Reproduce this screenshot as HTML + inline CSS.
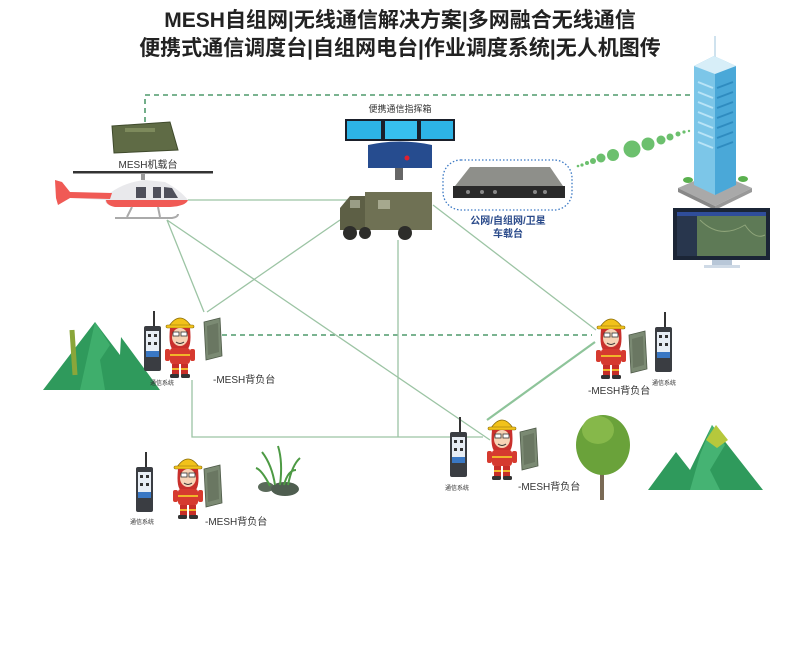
<!DOCTYPE html>
<html><head><meta charset="utf-8"><style>
html,body{margin:0;padding:0;background:#fff;}
svg{display:block;}
text{font-family:"Liberation Sans","Noto Sans CJK SC",sans-serif;}
</style></head><body>
<svg width="800" height="647" viewBox="0 0 800 647" xmlns="http://www.w3.org/2000/svg">
<defs>
<g id="sol">
 <!-- soldier ~32x66 origin top-left -->
 <path d="M5 14 Q16 -2 27 14 Z" fill="#f2c21a" stroke="#8a6d0a" stroke-width="0.8"/>
 <rect x="2" y="13" width="28" height="3" rx="1.5" fill="#f2c21a" stroke="#8a6d0a" stroke-width="0.6"/>
 <path d="M6 16 Q4 36 10 38 L22 38 Q28 36 26 16 Z" fill="#c9302c"/>
 <ellipse cx="16" cy="25" rx="8" ry="9" fill="#f7d3b5"/>
 <rect x="9" y="20" width="6" height="4" fill="#fff" stroke="#333" stroke-width="0.8"/>
 <rect x="17" y="20" width="6" height="4" fill="#fff" stroke="#333" stroke-width="0.8"/>
 <path d="M12 30 Q16 33 20 30" stroke="#333" fill="none" stroke-width="1"/>
 <rect x="6" y="36" width="20" height="16" rx="3" fill="#d63a2f"/>
 <rect x="6" y="42" width="20" height="2" fill="#f1b52a"/>
 <rect x="1" y="37" width="5" height="12" rx="2" fill="#d63a2f"/>
 <rect x="26" y="37" width="5" height="12" rx="2" fill="#d63a2f"/>
 <rect x="8" y="52" width="7" height="11" fill="#c72e28"/>
 <rect x="17" y="52" width="7" height="11" fill="#c72e28"/>
 <rect x="8" y="56" width="7" height="2" fill="#f1b52a"/>
 <rect x="17" y="56" width="7" height="2" fill="#f1b52a"/>
 <rect x="6" y="62" width="9" height="4" rx="1.5" fill="#333"/>
 <rect x="17" y="62" width="9" height="4" rx="1.5" fill="#333"/>
</g>
<g id="phone">
 <rect x="9" y="0" width="2" height="16" fill="#333"/>
 <rect x="0" y="15" width="17" height="45" rx="2" fill="#3a3d42"/>
 <rect x="2" y="20" width="13" height="26" fill="#e8eef5"/>
 <rect x="2" y="40" width="13" height="6" fill="#3a78c4"/>
 <rect x="4" y="23" width="3" height="3" fill="#333"/><rect x="10" y="23" width="3" height="3" fill="#333"/>
 <rect x="4" y="31" width="3" height="3" fill="#333"/><rect x="10" y="31" width="3" height="3" fill="#333"/>
</g>
<g id="pack">
 <path d="M0 4 L16 0 L18 38 L2 42 Z" fill="#7b8a73" stroke="#4e5a48" stroke-width="0.8"/>
 <path d="M3 8 L14 5 L15 34 L4 37 Z" fill="#6a7762"/>
</g>
</defs>

<!-- Title -->
<text x="400" y="27" text-anchor="middle" font-size="21" font-weight="bold" fill="#222">MESH自组网|无线通信解决方案|多网融合无线通信</text>
<text x="400" y="55" text-anchor="middle" font-size="21" font-weight="bold" fill="#222">便携式通信调度台|自组网电台|作业调度系统|无人机图传</text>

<!-- connectors -->
<g stroke="#4f9a6c" stroke-width="1.6" stroke-dasharray="5,4" fill="none">
 <path d="M145 122 L145 95 L692 95"/>
 <path d="M222 335 L592 335"/>
</g>
<g stroke="#9cc4a4" stroke-width="1.3" fill="none">
 <path d="M188 200 L350 200"/>
 <path d="M167 220 L204 312"/>
 <path d="M167 220 L490 440"/>
 <path d="M340 220 L207 312"/>
 <path d="M192 380 L192 437 L483 437"/>
 <path d="M398 240 L398 437"/>
 <path d="M433 205 L596 330"/>
</g>
<path d="M487 420 L595 342" stroke="#8ec49a" stroke-width="2.2"/>

<!-- MESH airborne device -->
<path d="M112 126 L170 122 L178 150 L114 153 Z" fill="#5f6b45" stroke="#3f4a2c"/>
<rect x="125" y="128" width="30" height="4" fill="#7d8a5c"/>
<text x="148" y="168" text-anchor="middle" font-size="10" fill="#333">MESH机载台</text>

<!-- Helicopter -->
<rect x="73" y="171" width="140" height="2.5" fill="#333"/>
<rect x="141" y="173" width="4" height="7" fill="#999"/>
<path d="M55 180 L62 182 L70 192 L110 193 Q125 182 145 180 L165 182 Q180 190 188 200 Q185 206 170 207 L115 207 Q105 205 105 200 L70 198 L58 205 L56 198 Z" fill="#e9e9ec"/>
<path d="M55 180 L62 182 L70 192 L112 193 L110 199 L70 198 L58 205 L56 198 Z" fill="#f05a55"/>
<path d="M106 200 L188 200 Q186 206 170 207 L115 207 Q106 205 106 200 Z" fill="#f05a55"/>
<rect x="136" y="187" width="10" height="11" fill="#4e4f5a"/>
<rect x="153" y="187" width="8" height="11" fill="#4e4f5a"/>
<path d="M164 187 L172 188 L178 198 L164 198 Z" fill="#4e4f5a"/>
<path d="M132 207 L127 217 M158 207 L160 217" stroke="#aaa" stroke-width="2"/>
<path d="M115 218 L172 218 Q178 217 178 214" stroke="#aaa" stroke-width="2" fill="none"/>

<!-- command box -->
<text x="400" y="112" text-anchor="middle" font-size="9" fill="#333">便携通信指挥箱</text>
<rect x="345" y="119" width="38" height="22" fill="#1a1f2a"/>
<rect x="347" y="121" width="34" height="18" fill="#2db4e6"/>
<rect x="383" y="119" width="36" height="22" fill="#1a1f2a"/>
<rect x="385" y="121" width="32" height="18" fill="#37bfee"/>
<rect x="419" y="119" width="36" height="22" fill="#1a1f2a"/>
<rect x="421" y="121" width="32" height="18" fill="#2db4e6"/>
<path d="M368 145 Q400 138 432 145 L432 168 L368 168 Z" fill="#264c8f"/>
<circle cx="407" cy="158" r="2.5" fill="#e02030"/>
<rect x="395" y="168" width="8" height="12" fill="#666"/>
<!-- vehicle -->
<rect x="365" y="192" width="67" height="38" fill="#6f7154"/>
<path d="M340 208 L350 196 L365 196 L365 230 L340 230 Z" fill="#5d5f45"/>
<rect x="350" y="200" width="10" height="8" fill="#9a9d86"/>
<rect x="378" y="200" width="12" height="9" fill="#a6a88e"/>
<circle cx="350" cy="233" r="7" fill="#2d2d2a"/>
<circle cx="365" cy="233" r="6" fill="#2d2d2a"/>
<circle cx="405" cy="233" r="7" fill="#2d2d2a"/>

<!-- vehicle device -->
<rect x="443" y="160" width="129" height="50" rx="18" fill="none" stroke="#3a78c4" stroke-width="1.3" stroke-dasharray="1.5,2"/>
<path d="M470 167 L550 167 L563 186 L455 186 Z" fill="#8e8f8a"/>
<rect x="453" y="186" width="112" height="12" fill="#2a2a2a"/>
<circle cx="468" cy="192" r="2" fill="#888"/><circle cx="482" cy="192" r="2" fill="#888"/><circle cx="495" cy="192" r="2" fill="#888"/><circle cx="535" cy="192" r="2" fill="#888"/><circle cx="545" cy="192" r="2" fill="#888"/>
<text x="508" y="224" text-anchor="middle" font-size="10" font-weight="bold" fill="#2a4a8a">公网/自组网/卫星</text>
<text x="508" y="237" text-anchor="middle" font-size="10" font-weight="bold" fill="#2a4a8a">车载台</text>

<!-- green dots -->
<g fill="#6cc06e">
<circle cx="578" cy="166" r="1.3"/><circle cx="582" cy="165" r="1.6"/><circle cx="587" cy="163" r="2"/>
<circle cx="593" cy="161" r="3"/><circle cx="601" cy="158" r="4.5"/><circle cx="613" cy="155" r="6"/>
<circle cx="632" cy="149" r="8.5"/><circle cx="648" cy="144" r="6.5"/><circle cx="661" cy="140" r="4.5"/>
<circle cx="670" cy="137" r="3.5"/><circle cx="678" cy="134" r="2.5"/><circle cx="684" cy="132" r="1.6"/><circle cx="689" cy="131" r="1.2"/>
</g>

<!-- building -->
<path d="M678 188 L715 172 L752 188 L715 206 Z" fill="#a9a9a9"/>
<path d="M678 188 L715 206 L715 210 L678 192 Z" fill="#888"/>
<path d="M752 188 L715 206 L715 210 L752 192 Z" fill="#999"/>
<rect x="714" y="36" width="2" height="28" fill="#cfe2ee"/>
<path d="M694 66 L714 56 L736 66 L736 185 L715 195 L694 185 Z" fill="#7cc6e8"/>
<path d="M715 70 L736 66 L736 185 L715 195 Z" fill="#4aa8d8"/>
<path d="M694 66 L714 56 L736 66 L715 74 Z" fill="#d7eef8"/>
<g stroke="#b8e4f7" stroke-width="2">
<path d="M698 82 L713 88 M698 92 L713 98 M698 102 L713 108 M698 112 L713 118 M698 122 L713 128 M698 132 L713 138 M698 142 L713 148"/>
</g>
<g stroke="#2f8cc0" stroke-width="2">
<path d="M717 88 L733 82 M717 98 L733 92 M717 108 L733 102 M717 118 L733 112 M717 128 L733 122 M717 138 L733 132 M717 148 L733 142"/>
</g>
<ellipse cx="688" cy="180" rx="5" ry="3" fill="#5ab04e"/><ellipse cx="743" cy="179" rx="5" ry="3" fill="#5ab04e"/>
<!-- monitor -->
<rect x="673" y="208" width="97" height="52" fill="#1b2536"/>
<rect x="677" y="212" width="89" height="44" fill="#5e7a56"/>
<rect x="677" y="212" width="20" height="44" fill="#28364d"/>
<rect x="677" y="212" width="89" height="4" fill="#2f4d9a"/>
<path d="M700 220 Q720 240 745 225 Q755 240 765 235" stroke="#8fa57a" fill="none"/>
<rect x="712" y="260" width="20" height="5" fill="#b8c7d8"/>
<rect x="704" y="265" width="36" height="3" fill="#cfdae6"/>

<!-- left mountain -->
<path d="M43 390 L95 322 L120 355 L121 337 L160 390 Z" fill="#2f9a5c"/>
<path d="M95 322 L110 345 L100 360 L105 390 L80 390 Z" fill="#3fae6c"/>
<path d="M72 330 L75 375" stroke="#8aa63a" stroke-width="5"/>
<!-- soldiers left -->
<use href="#phone" x="144" y="311"/>
<use href="#sol" x="164" y="312"/>
<use href="#pack" x="204" y="318"/>
<text x="150" y="385" font-size="6" fill="#333">通信系统</text>
<text x="213" y="383" font-size="10" fill="#333">-MESH背负台</text>

<use href="#phone" x="136" y="452"/>
<use href="#sol" x="172" y="453"/>
<use href="#pack" x="204" y="465"/>
<text x="130" y="524" font-size="6" fill="#333">通信系统</text>
<text x="205" y="525" font-size="10" fill="#333">-MESH背负台</text>

<!-- grass -->
<ellipse cx="266" cy="487" rx="8" ry="5" fill="#5a6a5a"/><ellipse cx="285" cy="489" rx="14" ry="7" fill="#4f5e50"/>
<g stroke="#4d9a44" stroke-width="2" fill="none">
<path d="M275 485 Q272 465 262 452 M280 485 Q283 462 278 446 M288 485 Q292 465 300 458 M270 486 Q262 470 256 468 M284 485 Q288 470 296 470"/>
</g>

<!-- right soldier -->
<use href="#sol" x="595" y="313"/>
<use href="#pack" x="629" y="331"/>
<use href="#phone" x="655" y="312"/>
<text x="652" y="385" font-size="6" fill="#333">通信系统</text>
<text x="588" y="394" font-size="10" fill="#333">-MESH背负台</text>

<!-- center soldier -->
<use href="#phone" x="450" y="417"/>
<use href="#sol" x="486" y="414"/>
<use href="#pack" x="520" y="428"/>
<text x="445" y="490" font-size="6" fill="#333">通信系统</text>
<text x="518" y="490" font-size="10" fill="#333">-MESH背负台</text>

<!-- tree -->
<rect x="600" y="460" width="4" height="40" fill="#7a6a55"/>
<ellipse cx="603" cy="445" rx="27" ry="30" fill="#6aa23a"/>
<ellipse cx="598" cy="430" rx="16" ry="14" fill="#86b84a"/>

<!-- right mountain -->
<path d="M648 490 L676 452 L690 470 L712 425 L763 490 Z" fill="#2f9a5c"/>
<path d="M712 425 L725 445 L710 470 L720 490 L690 490 L700 455 Z" fill="#45b373"/>
<path d="M706 440 L716 425 L728 440 L717 448 Z" fill="#b6c83c"/>
</svg>
</body></html>
